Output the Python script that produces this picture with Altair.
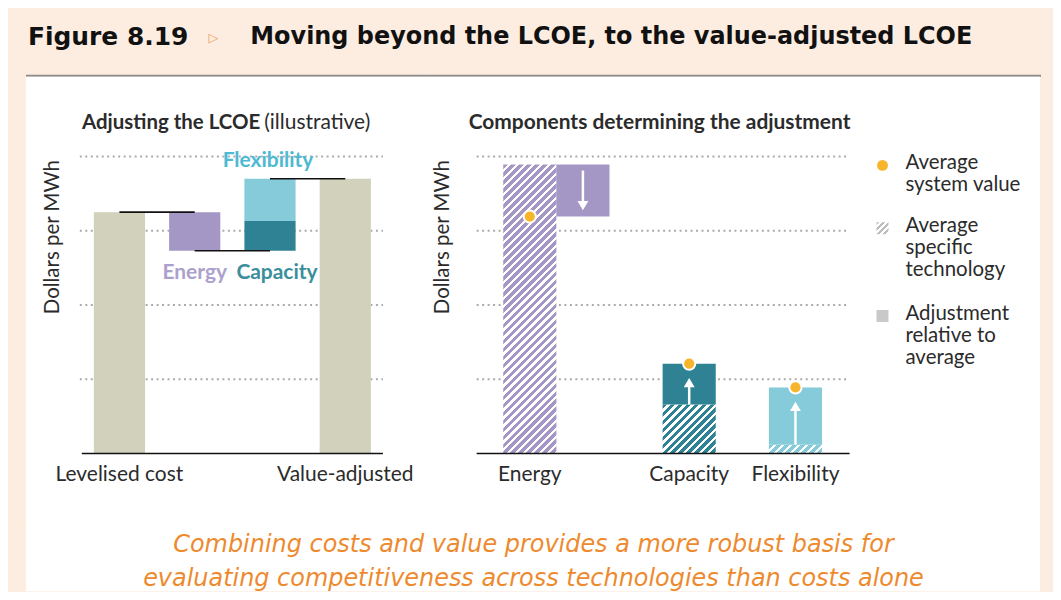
import altair as alt
import pandas as pd

# ---------------- data ----------------
left_categories = ["Levelised cost", "Energy", "Capacity and flexibility", "Value-adjusted"]
levelised_cost = 3.25
adjustment_names = ["Energy", "Capacity", "Flexibility"]
adjustment_values = [-0.52, 0.40, 0.57]

right_slots = ["Energy", "Energy adjustment", "gap-1", "Capacity", "gap-2", "Flexibility"]
right_categories = ["Energy", "Capacity", "Flexibility"]
adjustment_slots = ["Energy adjustment", "Capacity", "Flexibility"]
specific_values = [3.89, 0.66, 0.12]
system_values = [3.19, 1.21, 0.89]

grid_levels = [1, 2, 3, 4]
legend_labels = ["Average\nsystem value", "Average\nspecific\ntechnology", "Adjustment\nrelative to\naverage"]

# ---------------- styles ----------------
PEACH = "#FDEDE1"
BEIGE = "#D1D1BC"
PURPLE = "#A597C5"
TEAL = "#2E8293"
LIGHT = "#86CBDA"
ORANGE = "#F7B52C"
TXT = "#2B2B2B"
FONT = "Lato"

PANEL_H = 450
Y_RANGE = [378, 80]
PX_PER_UNIT = (Y_RANGE[0] - Y_RANGE[1]) / 4
R_RANGE = [47, 420]
R_BAND = (R_RANGE[1] - R_RANGE[0]) / 7


def hatch(color, w, h, period=8.0, frac=0.58):
    total = w + h
    k = total / (w * w + h * h)
    stops = []
    i = 0
    while i * period < total:
        s = min(i * period / total, 1)
        m = min((i * period + frac * period) / total, 1)
        e = min((i + 1) * period / total, 1)
        stops += [alt.GradientStop(color=color, offset=s),
                  alt.GradientStop(color=color, offset=m),
                  alt.GradientStop(color="white", offset=m),
                  alt.GradientStop(color="white", offset=e)]
        i += 1
    return alt.LinearGradient(gradient="linear", stops=stops,
                              x1=0, y1=0, x2=k * w, y2=k * h)


y_scale = alt.Scale(domain=[0, 4], range=Y_RANGE, nice=False, zero=True)

# ---------------- left panel ----------------
cum = [levelised_cost]
for v in adjustment_values:
    cum.append(cum[-1] + v)
left_bars = pd.DataFrame([
    {"cat": left_categories[0], "comp": "Cost", "y0": 0, "y1": levelised_cost},
    {"cat": left_categories[1], "comp": "Energy", "y0": cum[0], "y1": cum[1]},
    {"cat": left_categories[2], "comp": "Capacity", "y0": cum[1], "y1": cum[2]},
    {"cat": left_categories[2], "comp": "Flexibility", "y0": cum[2], "y1": cum[3]},
    {"cat": left_categories[3], "comp": "Cost", "y0": 0, "y1": cum[3]},
])
connectors = pd.DataFrame({
    "from": [left_categories[0], left_categories[1], left_categories[2]],
    "to": [left_categories[1], left_categories[2], left_categories[3]],
    "level": [cum[0], cum[1], cum[3]],
})
xl = alt.Scale(domain=left_categories, range=[56, 358], paddingInner=0.32, paddingOuter=0.16)
grid_df = pd.DataFrame({"level": grid_levels})
base_df = pd.DataFrame({"level": [0]})

l_grid = alt.Chart(grid_df).mark_rule(color="#ABABAB", strokeWidth=2, strokeDash=[2, 3.5]).encode(
    y=alt.Y("level:Q", scale=y_scale, axis=None), x=alt.value(54), x2=alt.value(358))
l_bars = alt.Chart(left_bars).mark_bar().encode(
    x=alt.X("cat:N", scale=xl, axis=None),
    y=alt.Y("y0:Q", scale=y_scale, axis=None), y2="y1:Q",
    color=alt.Color("comp:N", legend=None,
                    scale=alt.Scale(domain=["Cost", "Energy", "Capacity", "Flexibility"],
                                    range=[BEIGE, PURPLE, TEAL, LIGHT])))
l_conn = alt.Chart(connectors).mark_rule(color="#111", strokeWidth=1.6).encode(
    x=alt.X("from:N", scale=xl, axis=None), x2="to:N",
    y=alt.Y("level:Q", scale=y_scale, axis=None))
l_base = alt.Chart(base_df).mark_rule(color="#111", strokeWidth=1.6).encode(
    y=alt.Y("level:Q", scale=y_scale, axis=None), x=alt.value(56), x2=alt.value(358))

lab_df = pd.DataFrame({"cat": [left_categories[0], left_categories[3]], "t": [left_categories[0], left_categories[3]]})
l_xlab = alt.Chart(lab_df).mark_text(font=FONT, fontSize=21, color=TXT, dy=22, baseline="middle").encode(
    x=alt.X("cat:N", scale=xl, axis=None), y=alt.value(Y_RANGE[0]), text="t:N")

ann = pd.DataFrame({"cat": [left_categories[1], left_categories[2], left_categories[2]],
                    "name": adjustment_names,
                    "level": [cum[1], cum[1], cum[3]]})
def ann_layer(name, color, dx, dy):
    return alt.Chart(ann).transform_filter(alt.datum.name == name).mark_text(
        font=FONT, fontSize=21, fontWeight="bold", color=color, dx=dx, dy=dy, baseline="middle").encode(
        x=alt.X("cat:N", scale=xl, axis=None), y=alt.Y("level:Q", scale=y_scale, axis=None), text="name:N")
l_ann = [ann_layer("Energy", "#ACA1CD", 0, 22), ann_layer("Capacity", "#3B8E9C", 7, 22),
         ann_layer("Flexibility", "#4DB9D2", -2, -18)]

title_df = pd.DataFrame({"a": ["Adjusting the LCOE"], "b": ["(illustrative)"]})
l_t1 = alt.Chart(title_df).mark_text(font=FONT, fontSize=20.5, fontWeight="bold", color=TXT, align="right",
                                     baseline="middle").encode(text="a:N", x=alt.value(235), y=alt.value(47))
l_t2 = alt.Chart(title_df).mark_text(font=FONT, fontSize=21, color=TXT, align="left",
                                     baseline="middle").encode(text="b:N", x=alt.value(239), y=alt.value(47))
ytitle_df = pd.DataFrame({"t": ["Dollars per MWh"]})
l_yt = alt.Chart(ytitle_df).mark_text(font=FONT, fontSize=20.5, color=TXT, angle=270, baseline="middle").encode(
    text="t:N", x=alt.value(27), y=alt.value(161))

left = alt.layer(l_grid, l_bars, l_conn, l_base, l_xlab, *l_ann, l_t1, l_t2, l_yt).properties(
    width=405, height=PANEL_H, view=alt.ViewBackground(fill="white", stroke=None))

# ---------------- right panel ----------------
right_df = pd.DataFrame({"cat": right_categories, "slot": adjustment_slots,
                         "spec": specific_values, "sys": system_values})
xr = alt.Scale(domain=right_slots, range=R_RANGE, paddingInner=0, paddingOuter=0.5)

r_grid = alt.Chart(grid_df).mark_rule(color="#ABABAB", strokeWidth=2, strokeDash=[2, 3.5]).encode(
    y=alt.Y("level:Q", scale=y_scale, axis=None), x=alt.value(47), x2=alt.value(421))
r_base = alt.Chart(base_df).mark_rule(color="#111", strokeWidth=1.6).encode(
    y=alt.Y("level:Q", scale=y_scale, axis=None), x=alt.value(47), x2=alt.value(421))

hatch_colors = {"Energy": PURPLE, "Capacity": TEAL, "Flexibility": LIGHT}
r_hatch = []
for c, v in zip(right_categories, specific_values):
    r_hatch.append(alt.Chart(right_df).transform_filter(alt.datum.cat == c).mark_bar(
        fill=hatch(hatch_colors[c], R_BAND, v * PX_PER_UNIT)).encode(
        x=alt.X("cat:N", scale=xr, axis=None),
        y=alt.Y("spec:Q", scale=y_scale, axis=None), y2=alt.Y2(datum=0)))
r_adj = alt.Chart(right_df).mark_bar().encode(
    x=alt.X("slot:N", scale=xr, axis=None),
    y=alt.Y("spec:Q", scale=y_scale, axis=None), y2="sys:Q",
    color=alt.Color("cat:N", legend=None,
                    scale=alt.Scale(domain=right_categories, range=[PURPLE, TEAL, LIGHT])))
down = right_df[right_df["sys"] < right_df["spec"]]
up = right_df[right_df["sys"] >= right_df["spec"]]
r_shaft_d = alt.Chart(down).mark_rule(color="white", strokeWidth=2.5, yOffset=6, y2Offset=-12).encode(
    x=alt.X("slot:N", scale=xr, axis=None), y=alt.Y("spec:Q", scale=y_scale, axis=None), y2="sys:Q")
r_head_d = alt.Chart(down).mark_point(shape="triangle-down", filled=True, color="white", opacity=1,
                                      size=120, yOffset=-11).encode(
    x=alt.X("slot:N", scale=xr, axis=None), y=alt.Y("sys:Q", scale=y_scale, axis=None))
r_shaft_u = alt.Chart(up).mark_rule(color="white", strokeWidth=2.5, y2Offset=20).encode(
    x=alt.X("slot:N", scale=xr, axis=None), y=alt.Y("spec:Q", scale=y_scale, axis=None), y2="sys:Q")
r_head_u = alt.Chart(up).mark_point(shape="triangle-up", filled=True, color="white", opacity=1,
                                    size=120, yOffset=19).encode(
    x=alt.X("slot:N", scale=xr, axis=None), y=alt.Y("sys:Q", scale=y_scale, axis=None))
r_dots = alt.Chart(right_df).mark_point(shape="circle", filled=True, fill=ORANGE, stroke="white",
                                        strokeWidth=2, opacity=1, size=150).encode(
    x=alt.X("cat:N", scale=xr, axis=None), y=alt.Y("sys:Q", scale=y_scale, axis=None))
r_xlab = alt.Chart(right_df).mark_text(font=FONT, fontSize=21, color=TXT, dy=22, baseline="middle").encode(
    x=alt.X("cat:N", scale=xr, axis=None), y=alt.value(Y_RANGE[0]), text="cat:N")

rt_df = pd.DataFrame({"t": ["Components determining the adjustment"]})
r_title = alt.Chart(rt_df).mark_text(font=FONT, fontSize=21, fontWeight="bold", color=TXT, align="left",
                                     baseline="middle").encode(text="t:N", x=alt.value(39), y=alt.value(47))
r_yt = alt.Chart(ytitle_df).mark_text(font=FONT, fontSize=20.5, color=TXT, angle=270, baseline="middle").encode(
    text="t:N", x=alt.value(13), y=alt.value(161))

# legend
leg_df = pd.DataFrame({"t": legend_labels})
leg_sym_dot = alt.Chart(leg_df.head(1)).mark_point(shape="circle", filled=True, fill=ORANGE, opacity=1,
                                                   size=120).encode(x=alt.value(454), y=alt.value(89))
leg_sym_hatch = alt.Chart(leg_df.head(1)).mark_square(size=144, opacity=1,
                                                      fill=hatch("#BDBDBD", 12, 12, period=6, frac=0.5)).encode(
    x=alt.value(454), y=alt.value(152))
leg_sym_solid = alt.Chart(leg_df.head(1)).mark_square(size=144, opacity=1, fill="#C9C9C9").encode(
    x=alt.value(454), y=alt.value(240))
leg_texts = []
for lab, ytop in zip(legend_labels, [77, 140, 228]):
    leg_texts.append(alt.Chart(pd.DataFrame({"t": [lab]})).mark_text(
        font=FONT, fontSize=20.5, color=TXT, align="left", baseline="top", lineBreak="\n", lineHeight=22).encode(
        text="t:N", x=alt.value(477), y=alt.value(ytop)))

right = alt.layer(r_grid, *r_hatch, r_adj, r_shaft_d, r_head_d, r_shaft_u, r_head_u, r_dots, r_base,
                  r_xlab, r_title, r_yt, leg_sym_dot, leg_sym_hatch, leg_sym_solid, *leg_texts).properties(
    width=612, height=PANEL_H, view=alt.ViewBackground(fill="white", stroke=None))

# ---------------- header & caption ----------------
hd = pd.DataFrame({"fig": ["Figure 8.19"], "tri": ["▷"],
                   "title": ["Moving beyond the LCOE, to the value-adjusted LCOE"]})
h_fig = alt.Chart(hd).mark_text(font="DejaVu Sans", fontSize=25, fontWeight="bold", color="#111",
                                align="left", baseline="middle").encode(text="fig:N", x=alt.value(2), y=alt.value(28))
h_tri = alt.Chart(hd).mark_text(font="DejaVu Sans", fontSize=13, color="#F0A060",
                                align="left", baseline="middle").encode(text="tri:N", x=alt.value(183), y=alt.value(29))
h_title = alt.Chart(hd).mark_text(font="DejaVu Sans", fontSize=24, fontWeight="bold", color="#111",
                                  align="left", baseline="middle").encode(text="title:N", x=alt.value(225), y=alt.value(28))
h_rule = alt.Chart(hd).mark_rule(color="#8C8C8C", strokeWidth=2).encode(
    x=alt.value(0), x2=alt.value(1018), y=alt.value(67))
header = alt.layer(h_fig, h_tri, h_title, h_rule).properties(width=1017, height=68)

cap = pd.DataFrame({"t": ["Combining costs and value provides a more robust basis for\n"
                          "evaluating competitiveness across technologies than costs alone"]})
caption = alt.Chart(cap).mark_text(font="DejaVu Sans", fontSize=24, fontStyle="italic", color="#EE8A2E",
                                   align="center", baseline="middle", lineBreak="\n", lineHeight=34).encode(
    text="t:N", x=alt.value(509), y=alt.value(20)).properties(
    width=1017, height=66, view=alt.ViewBackground(fill="white", stroke=None))

body = alt.hconcat(left, right, spacing=0)
chart = alt.vconcat(header, body, caption, spacing=0).properties(
    background=PEACH, padding={"left": 17, "top": 0, "right": 11, "bottom": 0}
).configure_view(stroke=None)

chart.save("out.html", embed_options={"renderer": "svg", "actions": False})
